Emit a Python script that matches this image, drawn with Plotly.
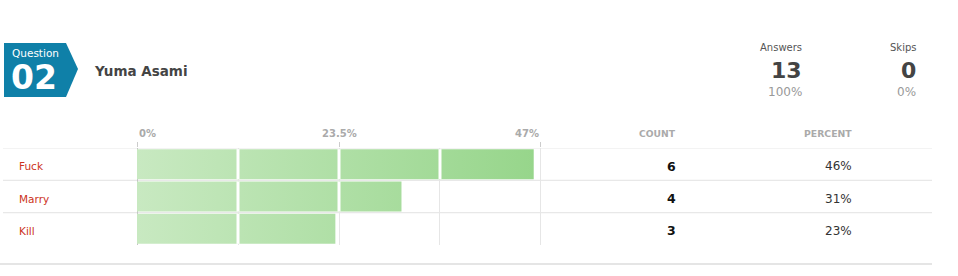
import plotly.graph_objects as go

# ---------------- data ----------------
question_number = "02"
question_title = "Yuma Asami"
categories = ["Fuck", "Marry", "Kill"]
counts = [6, 4, 3]
answers = 13
skips = 0
tick_vals = [0, 23.5, 47]
tick_text = ["0%", "23.5%", "47%"]
minor_grid_vals = [11.75, 35.25]

# ---------------- geometry helpers (pixel -> paper) ----------------
W, H = 958, 276
L, R, T, B = 137, 416, 148, 31
PW, PH = W - L - R, H - T - B


def px(x):
    return (x - L) / PW


def py(y):
    return (H - B - y) / PH


FONT = "DejaVu Sans"
total = answers
percents = [c / total * 100 for c in counts]
xmax = tick_vals[-1]
xpad = xmax * 0.0025
half = 0.465

fig = go.Figure()

# bars with horizontal gradient
for i, (cat, p) in enumerate(zip(categories, percents)):
    fig.add_trace(go.Scatter(
        x=[0, p, p, 0, 0],
        y=[i - half, i - half, i + half, i + half, i - half],
        mode="lines", line=dict(width=0), fill="toself",
        fillgradient=dict(type="horizontal",
                          colorscale=[[0, "#c8e9c1"], [1, "#96d58a"]],
                          start=0, stop=xmax),
        hoverinfo="skip", showlegend=False,
    ))

# white dividers over bars at grid positions
grid_all = sorted(tick_vals + minor_grid_vals)
dx, dy = [], []
for i, p in enumerate(percents):
    for g in grid_all:
        if 0 < g < p:
            dx += [g, g, None]
            dy += [i - half, i + half, None]
fig.add_trace(go.Scatter(x=dx, y=dy, mode="lines",
                         line=dict(color="white", width=3),
                         hoverinfo="skip", showlegend=False))

fig.update_layout(
    width=W, height=H,
    margin=dict(l=L, r=R, t=T, b=B),
    paper_bgcolor="white", plot_bgcolor="white",
    font=dict(family=FONT),
    xaxis=dict(range=[0, xmax + xpad], side="top", tickvals=tick_vals,
               showticklabels=False, ticks="outside", ticklen=5,
               tickcolor="#cccccc", showgrid=True, gridcolor="#e6e6e6",
               gridwidth=1, zeroline=True, zerolinecolor="#c4c4c4",
               zerolinewidth=1, showline=False, fixedrange=True,
               minor=dict(tickvals=minor_grid_vals, showgrid=True,
                          gridcolor="#e6e6e6", gridwidth=1, ticks="")),
    yaxis=dict(range=[len(categories) - 0.5, -0.5], visible=False,
               fixedrange=True),
)

shapes = []
# row separator lines
for i in range(len(categories)):
    shapes.append(dict(type="line", xref="paper", yref="y",
                       x0=px(3), x1=px(932), y0=i - 0.5, y1=i - 0.5,
                       line=dict(color="#e8e8e8", width=1.2), layer="below"))
# bottom border
shapes.append(dict(type="line", xref="paper", yref="paper",
                   x0=px(0), x1=px(932), y0=py(264), y1=py(264),
                   line=dict(color="#dcdcdc", width=1.5)))
# question badge
pts = [(4, 43), (66, 43), (78, 69), (66, 97), (4, 97)]
path = "M " + " L ".join(f"{px(a):.5f},{py(b):.5f}" for a, b in pts) + " Z"
shapes.append(dict(type="path", xref="paper", yref="paper", path=path,
                   fillcolor="#0f80a8", line=dict(width=0)))
fig.update_layout(shapes=shapes)

ann = []


def add(text, x, y, size, color, xanchor="left", bold=False, xref="paper",
        yref="paper", yshift=0):
    ann.append(dict(text=f"<b>{text}</b>" if bold else text, x=x, y=y,
                    xref=xref, yref=yref, xanchor=xanchor, yanchor="middle",
                    yshift=yshift, showarrow=False,
                    font=dict(family=FONT, size=size, color=color)))


# header
add("Question", px(10), py(53), 10.5, "white")
add(question_number, px(9), py(78), 33, "white", bold=True)
add(question_title, px(92), py(71), 13.5, "#444444", bold=True)
add("Answers", px(804), py(47), 10, "#555555", xanchor="right")
add(str(answers), px(804), py(70), 22, "#444444", xanchor="right", bold=True)
add(f"{round(answers / total * 100)}%", px(804), py(92), 12, "#999999",
    xanchor="right")
add("Skips", px(918), py(47), 10, "#555555", xanchor="right")
add(str(skips), px(918), py(70), 22, "#444444", xanchor="right", bold=True)
add(f"{round(skips / total * 100)}%", px(918), py(92), 12, "#999999",
    xanchor="right")

# axis tick labels
for k, (v, t) in enumerate(zip(tick_vals, tick_text)):
    xa = "left" if k == 0 else ("right" if k == len(tick_vals) - 1 else "center")
    add(t, v, py(133), 10, "#aaaaaa", xanchor=xa, bold=True, xref="x")

# column headers
add("COUNT", px(678), py(133), 9.2, "#aaaaaa", xanchor="right", bold=True)
add("PERCENT", px(854), py(133), 9.3, "#aaaaaa", xanchor="right", bold=True)

# rows
for i, (cat, c, p) in enumerate(zip(categories, counts, percents)):
    add(cat, px(17), i, 10.5, "#cc3322", yref="y", yshift=-2)
    add(str(c), px(678), i, 12.5, "#111111", xanchor="right", bold=True,
        yref="y", yshift=-2)
    add(f"{round(p)}%", px(854), i, 12, "#333333", xanchor="right", yref="y",
        yshift=-2)

fig.update_layout(annotations=ann)
fig.write_html("out.html")
